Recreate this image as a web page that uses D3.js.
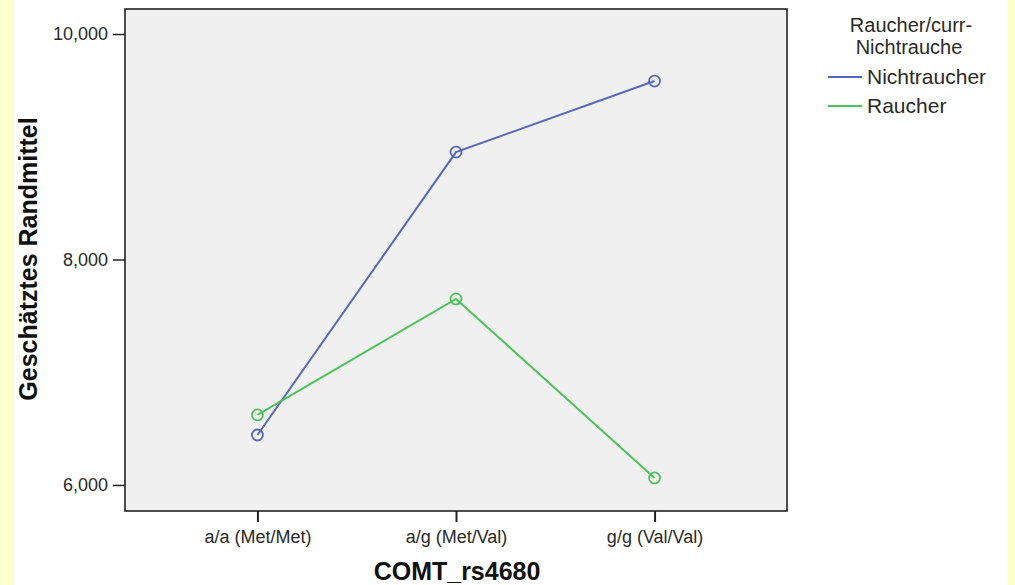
<!DOCTYPE html>
<html><head><meta charset="utf-8">
<script src="https://cdn.jsdelivr.net/npm/d3@7"></script>
<style>body{margin:0;background:#fff;} text{font-family:"Liberation Sans",Arial,sans-serif;}</style>
</head><body>
<svg id="c" width="1015" height="585"></svg>
<script>
const categories = ["a/a (Met/Met)", "a/g (Met/Val)", "g/g (Val/Val)"];
const nichtraucher = [6443, 8953, 9583];
const raucher = [6621, 7650, 6062];
const yTicks = [6000, 8000, 10000];
const seriesNames = ["Nichtraucher", "Raucher"];
const seriesColors = ["#5568b9", "#4dc25a"];

const svg = d3.select("#c");
svg.append("rect").attr("x",0).attr("y",0).attr("width",14).attr("height",585).attr("fill","#ffffcc");
svg.append("rect").attr("x",1008).attr("y",0).attr("width",7).attr("height",585).attr("fill","#ffffcc");

const L=125, R=787, T=9, B=511;
const x = d3.scalePoint().domain(categories).range([L,R]).padding(0.667);
const y = d3.scaleLinear().domain([5769,10222]).range([B,T]);

svg.append("rect").attr("x",L).attr("y",T).attr("width",R-L).attr("height",B-T)
  .attr("fill","#f0f0f0");

const series = [nichtraucher, raucher];
const line = d3.line().x((d,i)=>x(categories[i])).y(d=>y(d));
series.forEach((s,k)=>{
  svg.append("path").datum(s).attr("d",line).attr("fill","none")
    .attr("stroke",seriesColors[k]).attr("stroke-width",2);
  svg.selectAll(null).data(s).enter().append("circle")
    .attr("cx",(d,i)=>x(categories[i])).attr("cy",d=>y(d)).attr("r",5.5)
    .attr("fill","none").attr("stroke",seriesColors[k]).attr("stroke-width",1.8);
});

svg.append("rect").attr("x",L).attr("y",T).attr("width",R-L).attr("height",B-T)
  .attr("fill","none").attr("stroke","#222").attr("stroke-width",1.6);

const ya = svg.append("g").attr("transform",`translate(${L},0)`)
  .call(d3.axisLeft(y).tickValues(yTicks).tickSize(12).tickPadding(5).tickFormat(d3.format(",")));
ya.select(".domain").remove();
ya.selectAll("line").attr("stroke","#222").attr("stroke-width",1.5);
ya.selectAll("text").attr("font-size",18).attr("fill","#2a2a2a").attr("font-family","Liberation Sans, Arial, sans-serif");

const xa = svg.append("g").attr("transform",`translate(0,${B})`)
  .call(d3.axisBottom(x).tickSize(11).tickPadding(8));
xa.select(".domain").remove();
xa.selectAll("line").attr("stroke","#222").attr("stroke-width",2);
xa.selectAll("text").attr("font-size",18).attr("fill","#2a2a2a").attr("font-family","Liberation Sans, Arial, sans-serif");

svg.append("text").attr("x",457).attr("y",580).attr("text-anchor","middle")
  .attr("font-size",25).attr("font-weight","bold").attr("fill","#111").text("COMT_rs4680");
svg.append("text").attr("transform","translate(37,259) rotate(-90)").attr("text-anchor","middle")
  .attr("font-size",25).attr("font-weight","bold").attr("fill","#111").text("Geschätztes Randmittel");

const lg = svg.append("g");
lg.append("text").attr("x",911).attr("y",32).attr("text-anchor","middle").attr("font-size",20).attr("fill","#2a2a2a").text("Raucher/curr-");
lg.append("text").attr("x",909).attr("y",54).attr("text-anchor","middle").attr("font-size",20).attr("fill","#2a2a2a").text("Nichtrauche");
seriesNames.forEach((n,k)=>{
  const yy = 77 + k*29;
  lg.append("line").attr("x1",828).attr("x2",862).attr("y1",yy).attr("y2",yy)
    .attr("stroke",seriesColors[k]).attr("stroke-width",2);
  lg.append("text").attr("x",867).attr("y",yy+7).attr("font-size",21).attr("fill","#2a2a2a").text(n);
});
</script>
</body></html>
